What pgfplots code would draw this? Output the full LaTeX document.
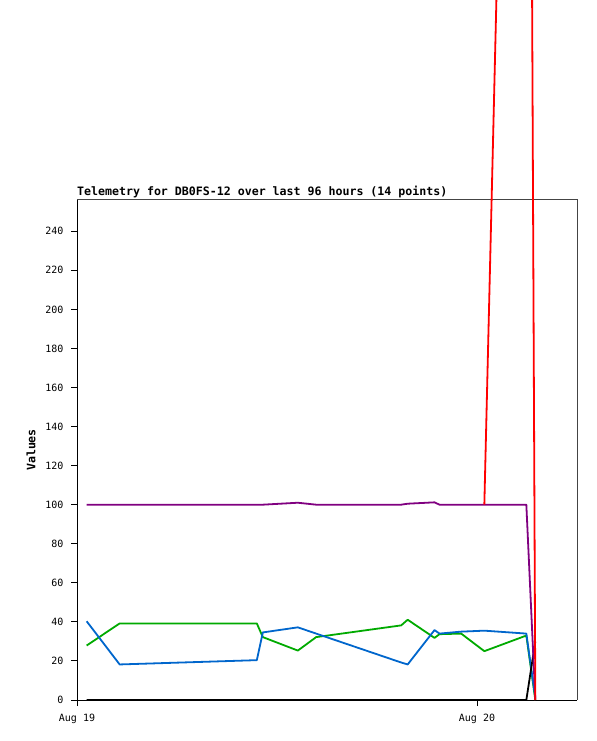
\documentclass[border=0pt]{standalone}
\usepackage{fontspec}
\setmainfont{DejaVu Sans Mono}
\usepackage{pgfplots}
\pgfplotsset{compat=1.18}
\usepackage{pgfplotstable}

\definecolor{tgreen}{RGB}{0,170,0}
\definecolor{tblue}{RGB}{0,102,204}
\definecolor{tpurple}{RGB}{128,0,128}
\definecolor{tframe}{RGB}{68,68,68}

% hours since Aug 19 00:00
\pgfplotstableread{
h      green  blue  purple black
0.58   27.9   40.3  100    0
2.56   39.2   18.2  100    0
10.79  39.2   20.4  100    0
11.15  32.2   34.6  100    0
13.25  25.3   37.2  101    0
14.35  32.2   34.0  100    0
19.45  38.2   19.2  100    0
19.84  41.1   18.2  100.5  0
21.45  31.8   35.8  101.2  0
21.75  33.7   34.0  100    0
23.05  34.0   35.0  100    0
24.44  25.0   35.5  100    0
26.96  33.0   34.0  100    0
27.50  0      1     0      30
}\telem

\pgfplotstableread{
h      red
24.44  100
26.96  1000
27.50  0
}\telemred

\begin{document}
\begin{tikzpicture}
\useasboundingbox (0,0) rectangle (597bp,741bp);
\begin{axis}[
    at={(77bp,41bp)}, anchor=south west,
    width=500bp, height=500bp, scale only axis,
    xmin=0, xmax=30, ymin=0, ymax=256,
    clip=false,
    axis x line*=bottom, axis y line*=left,
    axis line style={black, line width=1bp},
    xtick={0,24}, xticklabels={Aug 19, Aug 20},
    ytick={0,20,...,240},
    tick align=outside, major tick length=6bp,
    tick style={black, line width=1bp},
    ticklabel style={font=\fontsize{10bp}{12bp}\selectfont},
    yticklabel style={xshift=-4bp},
    xticklabel style={yshift=-5bp},
    /pgf/number format/assume math mode=true,
    every axis plot/.append style={line width=1.8bp, line join=round},
]
\draw[tframe, line width=1bp] (rel axis cs:0,1) -- (rel axis cs:1,1) -- (rel axis cs:1,0);
\addplot[tgreen, no markers] table[x=h, y=green] {\telem};
\addplot[tblue, no markers] table[x=h, y=blue] {\telem};
\addplot[black, no markers] table[x=h, y=black] {\telem};
\addplot[tpurple, no markers] table[x=h, y=purple] {\telem};
\addplot[red, no markers] table[x=h, y=red] {\telemred};
\node[anchor=base west, inner sep=0pt, font=\bfseries\fontsize{11.6bp}{13bp}\selectfont]
    at ([yshift=4bp]rel axis cs:0,1) {Telemetry for DB0FS-12 over last 96 hours (14 points)};
\node[rotate=90, inner sep=0pt, font=\bfseries\fontsize{11.6bp}{13bp}\selectfont]
    at ([xshift=-46bp]rel axis cs:0,0.5) {Values};
\end{axis}
\end{tikzpicture}
\end{document}
